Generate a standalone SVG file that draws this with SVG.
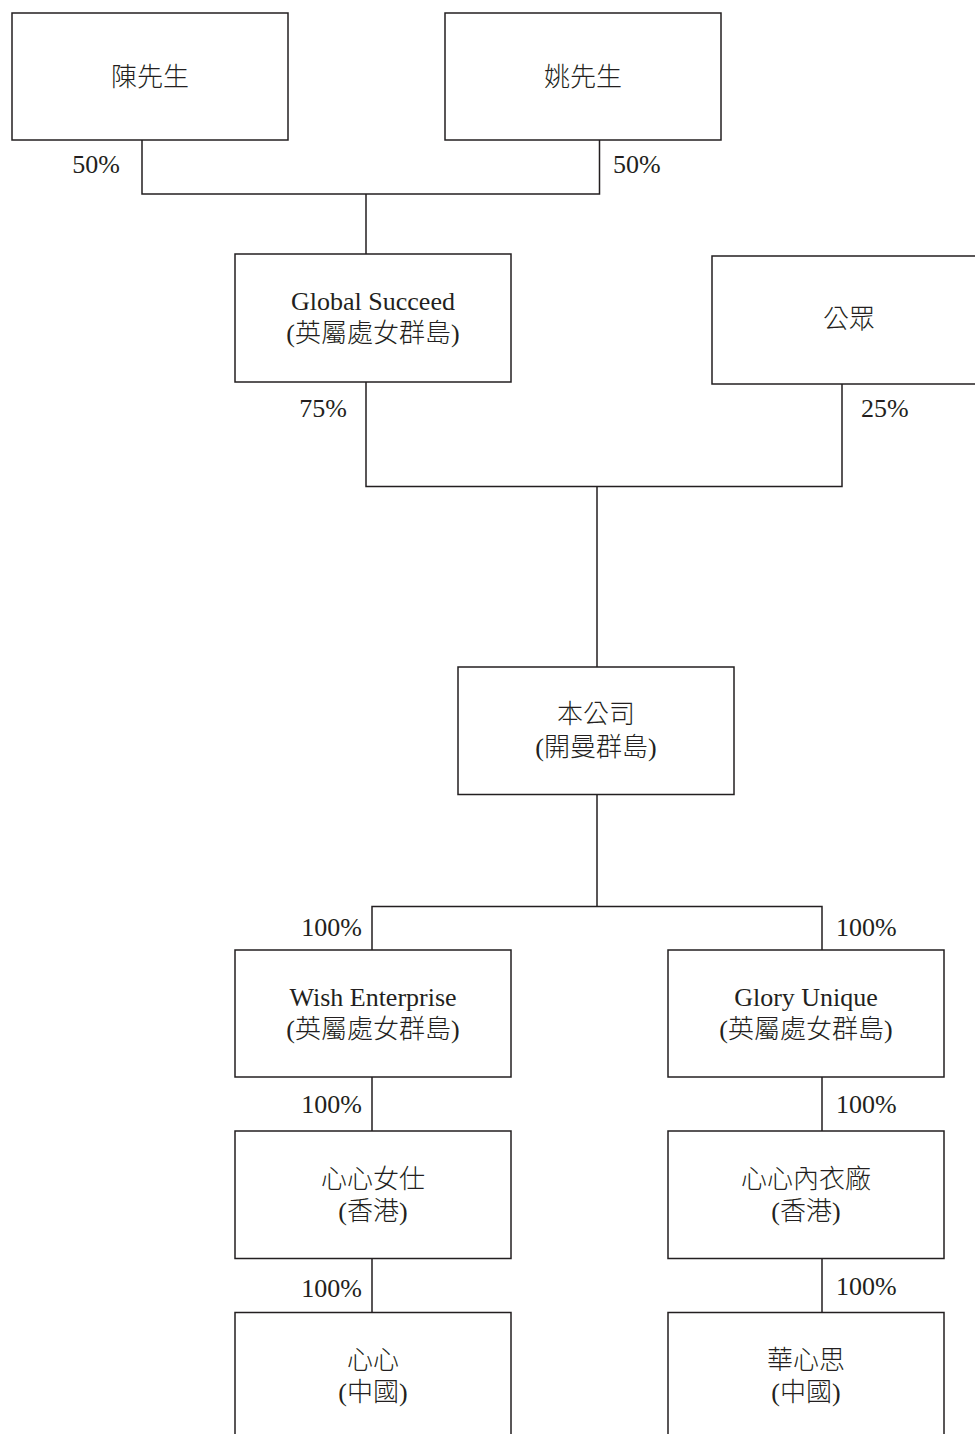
<svg xmlns="http://www.w3.org/2000/svg" width="975" height="1434" viewBox="0 0 975 1434">
<style>
.box{fill:#fff;stroke:#231f20;stroke-width:1.5}
.ln{fill:none;stroke:#231f20;stroke-width:1.5}
text{font-family:"Liberation Serif","Noto Sans CJK TC","Noto Sans CJK SC",serif;font-size:26px;fill:#231f20;font-weight:300}
.c{text-anchor:middle}
.r{text-anchor:end}
</style>
<rect width="975" height="1434" fill="#fff"/>
<g id="connectors">
<path class="ln" d="M142,140 V194 H599.5 V140 M366,194 V254"/>
<path class="ln" d="M366,382 V486.5 H842 V384 M597,486.5 V667"/>
<path class="ln" d="M597,794.5 V906.5 M372,950 V906.5 H822 V950"/>
<path class="ln" d="M372,1077 V1131 M822,1077 V1131"/>
<path class="ln" d="M372,1258.5 V1312.5 M822,1258.5 V1312.5"/>
</g>
<g id="labels">
<text class="r" x="120" y="173">50%</text>
<text x="613" y="173">50%</text>
<text class="r" x="347" y="417">75%</text>
<text x="861" y="417">25%</text>
<text class="r" x="362" y="936">100%</text>
<text x="836" y="936">100%</text>
<text class="r" x="362" y="1113">100%</text>
<text x="836" y="1113">100%</text>
<text class="r" x="362" y="1297">100%</text>
<text x="836" y="1295">100%</text>
</g>
<g id="chen">
<rect class="box" x="12" y="13" width="276" height="127"/>
<text class="c" x="150" y="86">陳先生</text>
</g>
<g id="yao">
<rect class="box" x="445" y="13" width="276" height="127"/>
<text class="c" x="583" y="86">姚先生</text>
</g>
<g id="global">
<rect class="box" x="235" y="254" width="276" height="128"/>
<text class="c" x="373" y="310">Global Succeed</text>
<text class="c" x="373" y="342">(英屬處女群島)</text>
</g>
<g id="public">
<rect class="box" x="712" y="256" width="276" height="128"/>
<text class="c" x="849" y="328">公眾</text>
</g>
<g id="company">
<rect class="box" x="458" y="667" width="276" height="127.5"/>
<text class="c" x="596" y="723">本公司</text>
<text class="c" x="596" y="756">(開曼群島)</text>
</g>
<g id="wish">
<rect class="box" x="235" y="950" width="276" height="127"/>
<text class="c" x="373" y="1006">Wish Enterprise</text>
<text class="c" x="373" y="1038">(英屬處女群島)</text>
</g>
<g id="glory">
<rect class="box" x="668" y="950" width="276" height="127"/>
<text class="c" x="806" y="1006">Glory Unique</text>
<text class="c" x="806" y="1038">(英屬處女群島)</text>
</g>
<g id="xinxin-hk">
<rect class="box" x="235" y="1131" width="276" height="127.5"/>
<text class="c" x="373" y="1188">心心女仕</text>
<text class="c" x="373" y="1220">(香港)</text>
</g>
<g id="xinxin-underwear">
<rect class="box" x="668" y="1131" width="276" height="127.5"/>
<text class="c" x="806" y="1188">心心內衣廠</text>
<text class="c" x="806" y="1220">(香港)</text>
</g>
<g id="xinxin-cn">
<rect class="box" x="235" y="1312.5" width="276" height="140"/>
<text class="c" x="373" y="1369">心心</text>
<text class="c" x="373" y="1401">(中國)</text>
</g>
<g id="huaxinsi">
<rect class="box" x="668" y="1312.5" width="276" height="140"/>
<text class="c" x="806" y="1369">華心思</text>
<text class="c" x="806" y="1401">(中國)</text>
</g>
</svg>
